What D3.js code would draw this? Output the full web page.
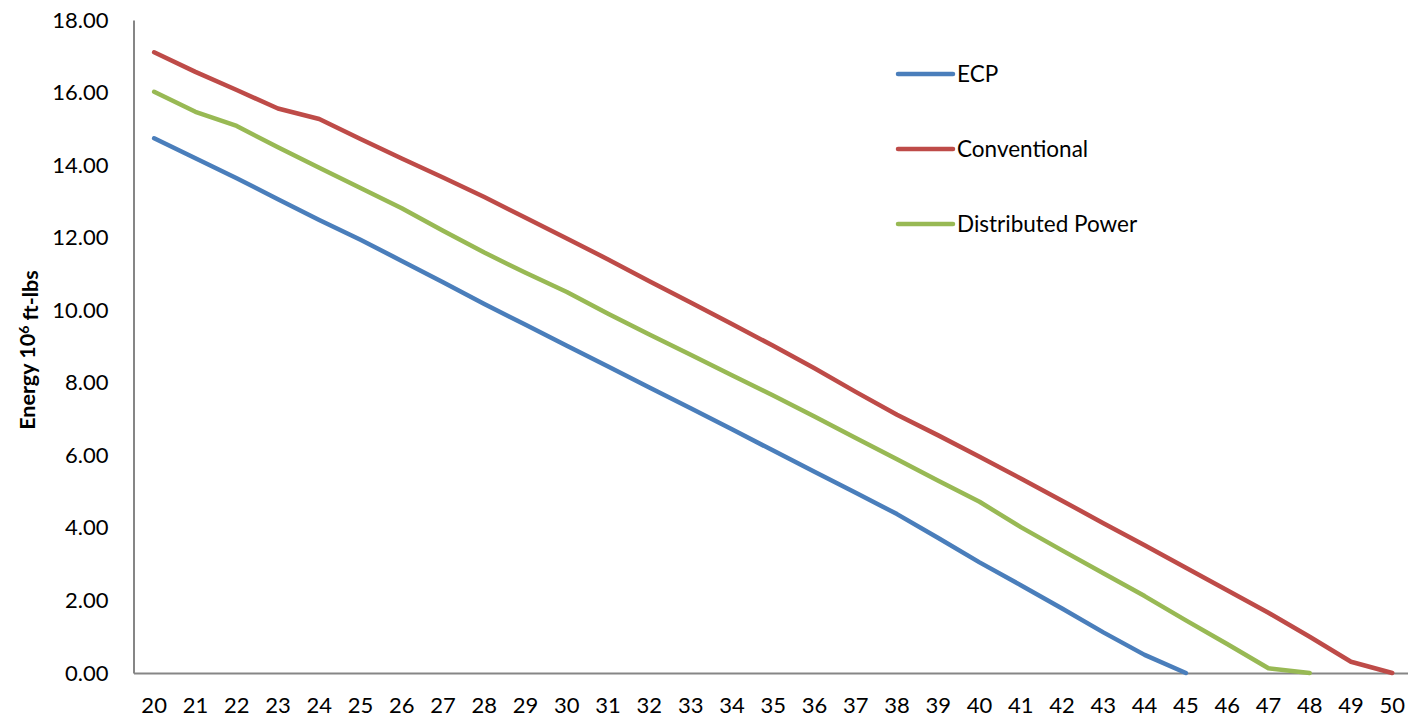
<!DOCTYPE html>
<html>
<head>
<meta charset="utf-8">
<script src="https://cdn.jsdelivr.net/npm/d3@7"></script>
<style>
  html, body { margin: 0; padding: 0; background: #fff; }
  svg { display: block; }
  text { font-family: Lato, "Open Sans", sans-serif; fill: #000; }
</style>
</head>
<body>
<div id="chart"></div>
<script>
// Categories along the x axis
const categories = d3.range(20, 51);

// Series values (energy, 10^6 ft-lbs)
const ecp = [14.74, 14.19, 13.64, 13.06, 12.49, 11.94, 11.36, 10.77, 10.17, 9.60,
             9.02, 8.45, 7.87, 7.30, 6.72, 6.13, 5.55, 4.97, 4.38, 3.72,
             3.05, 2.42, 1.78, 1.12, 0.50, 0.00];
const conventional = [17.11, 16.57, 16.07, 15.56, 15.27, 14.72, 14.18, 13.66, 13.12, 12.55,
                      11.98, 11.40, 10.80, 10.21, 9.62, 9.02, 8.40, 7.75, 7.12, 6.55,
                      5.96, 5.36, 4.75, 4.13, 3.52, 2.90, 2.28, 1.66, 1.00, 0.31, 0.00];
const distributedPower = [16.02, 15.47, 15.08, 14.49, 13.93, 13.37, 12.81, 12.19, 11.59, 11.03,
                          10.50, 9.90, 9.33, 8.77, 8.21, 7.65, 7.07, 6.48, 5.89, 5.30,
                          4.72, 4.02, 3.38, 2.75, 2.12, 1.45, 0.80, 0.13, 0.00];

const seriesNames = ["ECP", "Conventional", "Distributed Power"];
const seriesColors = ["#4A7EBB", "#BE4B48", "#98B954"];
const yTicks = [0, 2, 4, 6, 8, 10, 12, 14, 16, 18];

const series = [ecp, conventional, distributedPower].map((vals, i) => ({
  name: seriesNames[i],
  color: seriesColors[i],
  points: vals.map((v, j) => ({ cat: categories[j], value: v }))
}));

const width = 1408, height = 721;
const plotLeft = 133.5, plotTop = 20, plotBottom = 673;
const step = 41.27;

const svg = d3.select("#chart").append("svg")
  .attr("width", width).attr("height", height);

const x = d3.scaleBand()
  .domain(categories)
  .range([plotLeft, plotLeft + categories.length * step])
  .padding(0);

const y = d3.scaleLinear().domain([0, 18]).range([plotBottom, plotTop]);

const cx = d => x(d) + x.bandwidth() / 2;

// Y axis
const yAxis = svg.append("g")
  .attr("transform", `translate(${plotLeft},0)`)
  .call(d3.axisLeft(y).tickValues(yTicks).tickFormat(d3.format(".2f"))
        .tickSize(0).tickPadding(25));
yAxis.select(".domain").attr("stroke", "#868686").attr("stroke-width", 2);
yAxis.selectAll("text").style("font-size", "22px").style("font-family", "Lato, sans-serif");

// X axis
const xAxis = svg.append("g")
  .attr("transform", `translate(0,${plotBottom})`)
  .call(d3.axisBottom(x).tickSize(0).tickPadding(24));
xAxis.select(".domain").attr("stroke", "#868686").attr("stroke-width", 2);
xAxis.selectAll("text").style("font-size", "22px").style("font-family", "Lato, sans-serif");

// Series lines
const line = d3.line()
  .x(d => cx(d.cat))
  .y(d => y(d.value));

svg.append("g").selectAll("path")
  .data(series)
  .join("path")
  .attr("d", d => line(d.points))
  .attr("fill", "none")
  .attr("stroke", d => d.color)
  .attr("stroke-width", 4.5)
  .attr("stroke-linejoin", "round")
  .attr("stroke-linecap", "round");

// Legend
const legend = svg.append("g").attr("transform", "translate(898,74)");
const items = legend.selectAll("g")
  .data(series)
  .join("g")
  .attr("transform", (d, i) => `translate(0,${i * 75})`);
items.append("line")
  .attr("x1", 0).attr("x2", 55).attr("y1", 0).attr("y2", 0)
  .attr("stroke", d => d.color).attr("stroke-width", 4.5)
  .attr("stroke-linecap", "round");
items.append("text")
  .attr("x", 59).attr("y", 0).attr("dy", "0.35em")
  .style("font-size", "22.5px")
  .text(d => d.name);

// Y axis title
const title = svg.append("text")
  .attr("transform", "translate(35,350) rotate(-90)")
  .attr("text-anchor", "middle")
  .style("font-size", "21.5px")
  .style("font-weight", "bold");
title.append("tspan").text("Energy 10");
title.append("tspan").attr("dy", "-0.45em").style("font-size", "14px").text("6");
title.append("tspan").attr("dy", "0.45em").text(" ft-lbs");
</script>
</body>
</html>
